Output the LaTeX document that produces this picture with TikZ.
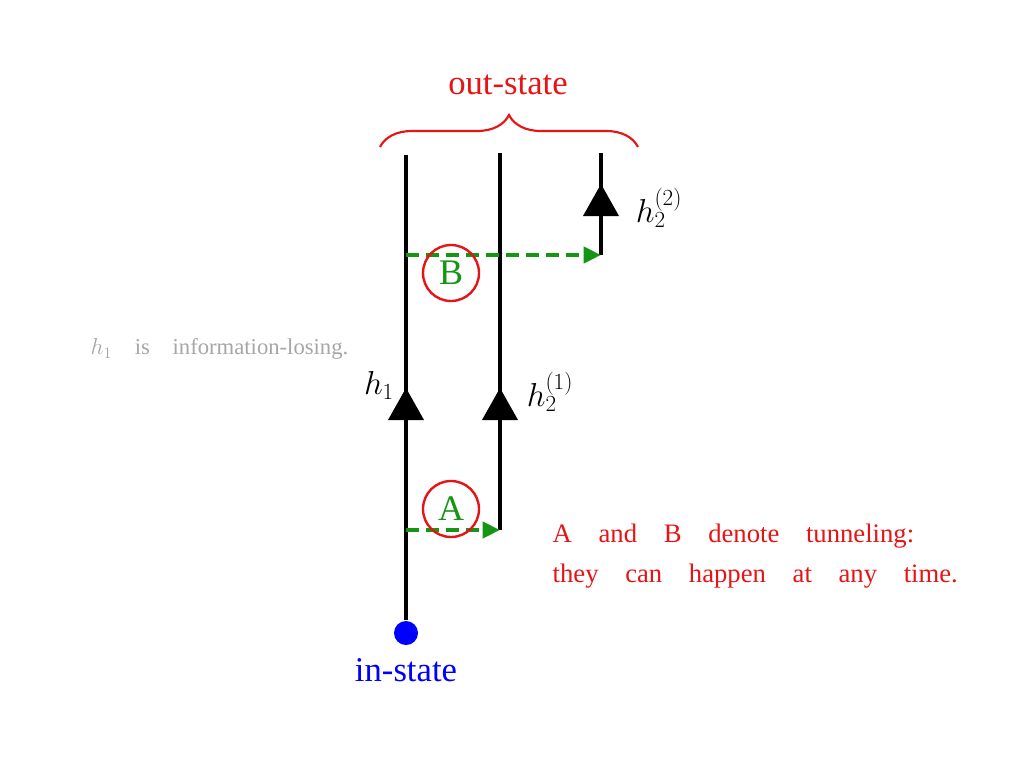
\documentclass[tikz,border=0pt]{standalone}
\usepackage{fontspec}
\setmainfont{Liberation Serif}
\usetikzlibrary{decorations.pathreplacing,arrows.meta}
\definecolor{grn}{RGB}{20,150,20}
\definecolor{redc}{RGB}{230,20,20}
\begin{document}
\begin{tikzpicture}[x=0.75pt,y=-0.75pt,
  wl/.style={line width=3.2pt,black},
  tri/.style={fill=black},
  tun/.style={grn,line width=3pt,dash pattern=on 10pt off 5pt,-{Triangle[length=13pt,width=12pt]}},
  circ/.style={circle,draw=redc,line width=1.8pt,minimum size=42pt,inner sep=0pt,text=grn,font=\fontsize{27}{27}\selectfont}]
\useasboundingbox (0,0) rectangle (1024,768);
\coordinate (a0) at (406,620); \coordinate (a1) at (406,155);
\coordinate (b0) at (500,530); \coordinate (b1) at (500,153);
\coordinate (c0) at (601,255); \coordinate (c1) at (601,153);
\draw[wl] (a0)--(a1); \draw[wl] (b0)--(b1); \draw[wl] (c0)--(c1);
\fill[tri] (388,420)--(424,420)--(406,388)--cycle;
\fill[tri] (482,420)--(518,420)--(500,388)--cycle;
\fill[tri] (583,216)--(619,216)--(601,184)--cycle;
\coordinate (ta) at (406,530); \coordinate (tb) at (406,255);
\draw[tun] (ta)--(b0);
\draw[tun] (tb)--(c0);
\node[circ] (A) at (451,509) {A};
\node[circ] (B) at (451,273) {B};
\node[blue,circle,fill=blue,inner sep=0pt,minimum size=18pt] (in) at (406,633) {};
\node[blue,font=\fontsize{26}{26}\selectfont] (inl) at (406,670) {in-state};
\node[font=\fontsize{27}{27}\selectfont] (h1) at (379,385) {$h_1$};
\node[font=\fontsize{27}{27}\selectfont] (h21) at (550,392) {$h_2^{(1)}$};
\node[font=\fontsize{27}{27}\selectfont] (h22) at (659,208) {$h_2^{(2)}$};
\coordinate (br0) at (380,147); \coordinate (br1) at (638,147);
\draw[redc,line width=1.6pt,decorate,decoration={brace,amplitude=24pt,aspect=0.5}] (br0)--(br1);
\node[redc,font=\fontsize{26}{26}\selectfont] (out) at (508,85) {out-state};
\node[gray!70,font=\fontsize{17}{17}\selectfont,anchor=west] (g) at (86,349) {$h_1$\quad is\quad information-losing.};
\node[redc,font=\fontsize{20}{30}\selectfont,anchor=north west,align=left] (t) at (548,519) {A\quad and\quad B\quad denote\quad tunneling:\\they\quad can\quad happen\quad at\quad any\quad time.};
\end{tikzpicture}
\end{document}
